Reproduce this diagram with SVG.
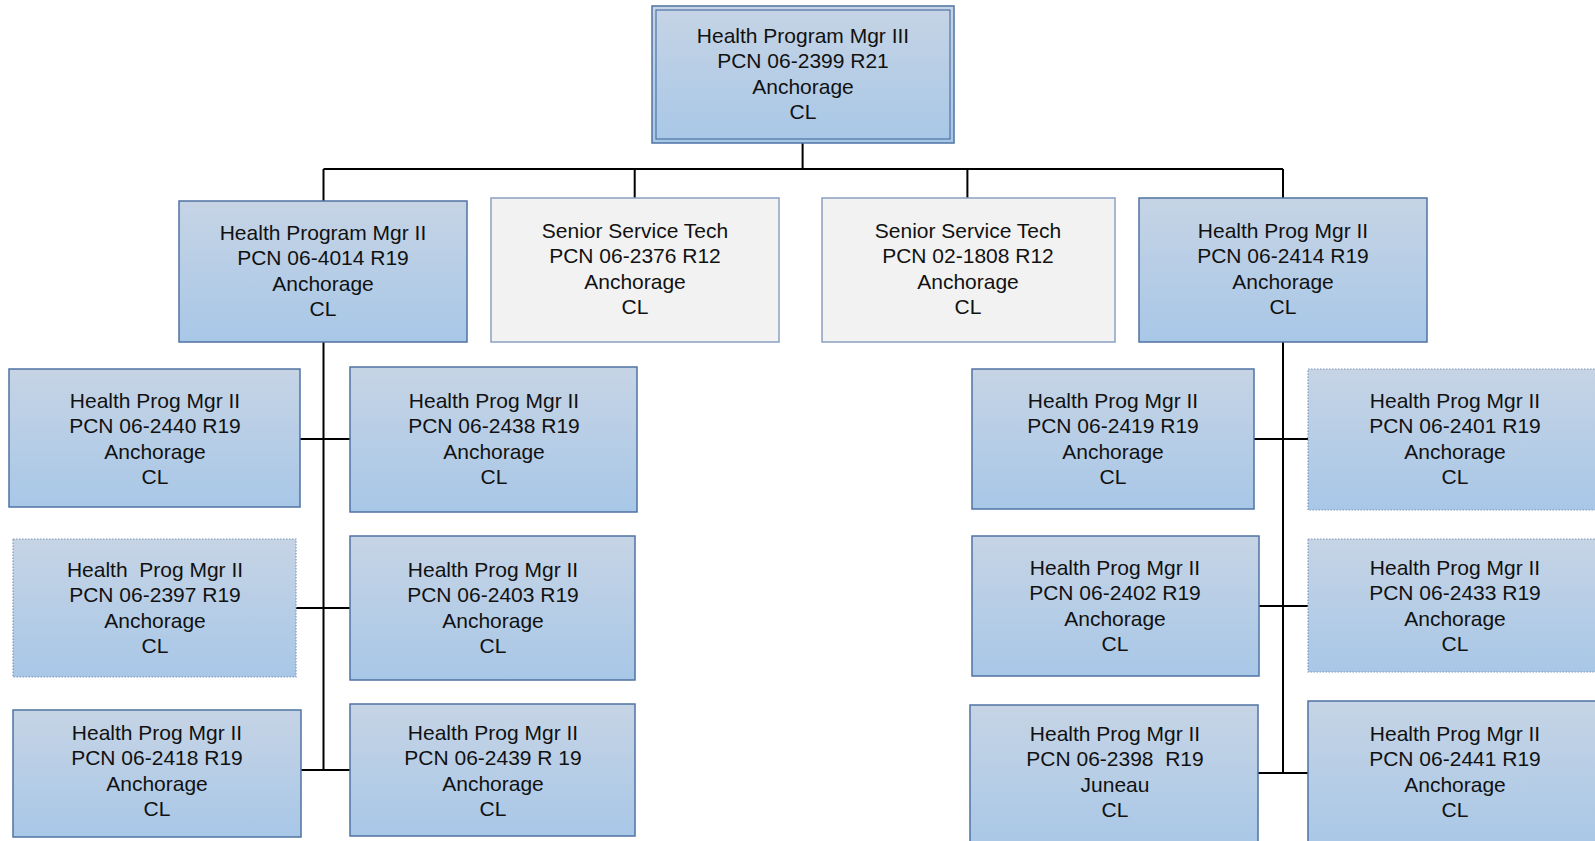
<svg xmlns="http://www.w3.org/2000/svg" width="1595" height="841" viewBox="0 0 1595 841">
<defs>
<linearGradient id="bg" x1="0" y1="0" x2="0" y2="1">
<stop offset="0" stop-color="#c6d4e5"/>
<stop offset="1" stop-color="#a8c7e7"/>
</linearGradient>
<style>
.b{fill:url(#bg);stroke:#4f73a3;stroke-width:1.5}
.d{fill:url(#bg);stroke:#7f97bd;stroke-width:1.2;stroke-dasharray:1.5 1.5}
.g{fill:#f2f2f2;stroke:#8aa0c0;stroke-width:1.5}
.i{fill:none;stroke:#4f73a3;stroke-width:1.2}
.c{fill:none;stroke:#000;stroke-width:2}
text{font-family:"Liberation Sans",Arial,sans-serif;font-size:21px;fill:#111;text-anchor:middle}
</style>
</defs>
<rect width="1595" height="841" fill="#fff"/>
<g id="connectors">
<path class="c" d="M802.6 143V169M323.5 169H1283M323.5 169V201M634.7 169V198M967.4 169V198M1283 169V198"/>
<path class="c" d="M323.5 342V770M300 439H350M296 608H350M301 770H350"/>
<path class="c" d="M1283 342V773M1254 439H1308M1259 606H1308M1258 773H1308"/>
</g>
<g id="n-top">
<rect class="b" x="652" y="6" width="302" height="137"/>
<rect class="i" x="656" y="10" width="294" height="129"/>
<text x="803" y="43">Health Program Mgr III<tspan x="803" dy="25.4">PCN 06-2399 R21</tspan><tspan x="803" dy="25.4">Anchorage</tspan><tspan x="803" dy="25.4">CL</tspan></text>
</g>
<g id="n-4014">
<rect class="b" x="179" y="201" width="288" height="141"/>
<text x="323" y="240">Health Program Mgr II<tspan x="323" dy="25.4">PCN 06-4014 R19</tspan><tspan x="323" dy="25.4">Anchorage</tspan><tspan x="323" dy="25.4">CL</tspan></text>
</g>
<g id="n-2376">
<rect class="g" x="491" y="198" width="288" height="144"/>
<text x="635" y="238">Senior Service Tech<tspan x="635" dy="25.4">PCN 06-2376 R12</tspan><tspan x="635" dy="25.4">Anchorage</tspan><tspan x="635" dy="25.4">CL</tspan></text>
</g>
<g id="n-1808">
<rect class="g" x="822" y="198" width="293" height="144"/>
<text x="968" y="238">Senior Service Tech<tspan x="968" dy="25.4">PCN 02-1808 R12</tspan><tspan x="968" dy="25.4">Anchorage</tspan><tspan x="968" dy="25.4">CL</tspan></text>
</g>
<g id="n-2414">
<rect class="b" x="1139" y="198" width="288" height="144"/>
<text x="1283" y="238">Health Prog Mgr II<tspan x="1283" dy="25.4">PCN 06-2414 R19</tspan><tspan x="1283" dy="25.4">Anchorage</tspan><tspan x="1283" dy="25.4">CL</tspan></text>
</g>
<g id="n-2440">
<rect class="b" x="9" y="369" width="291" height="138"/>
<text x="155" y="408">Health Prog Mgr II<tspan x="155" dy="25.4">PCN 06-2440 R19</tspan><tspan x="155" dy="25.4">Anchorage</tspan><tspan x="155" dy="25.4">CL</tspan></text>
</g>
<g id="n-2397">
<rect class="d" x="13" y="539" width="283" height="138"/>
<text x="155" y="577" xml:space="preserve">Health  Prog Mgr II<tspan x="155" dy="25.4">PCN 06-2397 R19</tspan><tspan x="155" dy="25.4">Anchorage</tspan><tspan x="155" dy="25.4">CL</tspan></text>
</g>
<g id="n-2418">
<rect class="b" x="13" y="710" width="288" height="127"/>
<text x="157" y="740">Health Prog Mgr II<tspan x="157" dy="25.4">PCN 06-2418 R19</tspan><tspan x="157" dy="25.4">Anchorage</tspan><tspan x="157" dy="25.4">CL</tspan></text>
</g>
<g id="n-2438">
<rect class="b" x="350" y="367" width="287" height="145"/>
<text x="494" y="408">Health Prog Mgr II<tspan x="494" dy="25.4">PCN 06-2438 R19</tspan><tspan x="494" dy="25.4">Anchorage</tspan><tspan x="494" dy="25.4">CL</tspan></text>
</g>
<g id="n-2403">
<rect class="b" x="350" y="536" width="285" height="144"/>
<text x="493" y="577">Health Prog Mgr II<tspan x="493" dy="25.4">PCN 06-2403 R19</tspan><tspan x="493" dy="25.4">Anchorage</tspan><tspan x="493" dy="25.4">CL</tspan></text>
</g>
<g id="n-2439">
<rect class="b" x="350" y="704" width="285" height="132"/>
<text x="493" y="740">Health Prog Mgr II<tspan x="493" dy="25.4">PCN 06-2439 R 19</tspan><tspan x="493" dy="25.4">Anchorage</tspan><tspan x="493" dy="25.4">CL</tspan></text>
</g>
<g id="n-2419">
<rect class="b" x="972" y="369" width="282" height="140"/>
<text x="1113" y="408">Health Prog Mgr II<tspan x="1113" dy="25.4">PCN 06-2419 R19</tspan><tspan x="1113" dy="25.4">Anchorage</tspan><tspan x="1113" dy="25.4">CL</tspan></text>
</g>
<g id="n-2402">
<rect class="b" x="972" y="536" width="287" height="140"/>
<text x="1115" y="575">Health Prog Mgr II<tspan x="1115" dy="25.4">PCN 06-2402 R19</tspan><tspan x="1115" dy="25.4">Anchorage</tspan><tspan x="1115" dy="25.4">CL</tspan></text>
</g>
<g id="n-2398">
<rect class="b" x="970" y="705" width="288" height="145"/>
<text x="1115" y="741" xml:space="preserve">Health Prog Mgr II<tspan x="1115" dy="25.4">PCN 06-2398  R19</tspan><tspan x="1115" dy="25.4">Juneau</tspan><tspan x="1115" dy="25.4">CL</tspan></text>
</g>
<g id="n-2401">
<rect class="d" x="1308" y="369" width="294" height="141"/>
<text x="1455" y="408">Health Prog Mgr II<tspan x="1455" dy="25.4">PCN 06-2401 R19</tspan><tspan x="1455" dy="25.4">Anchorage</tspan><tspan x="1455" dy="25.4">CL</tspan></text>
</g>
<g id="n-2433">
<rect class="d" x="1308" y="539" width="294" height="133"/>
<text x="1455" y="575">Health Prog Mgr II<tspan x="1455" dy="25.4">PCN 06-2433 R19</tspan><tspan x="1455" dy="25.4">Anchorage</tspan><tspan x="1455" dy="25.4">CL</tspan></text>
</g>
<g id="n-2441">
<rect class="b" x="1308" y="701" width="294" height="149"/>
<text x="1455" y="741">Health Prog Mgr II<tspan x="1455" dy="25.4">PCN 06-2441 R19</tspan><tspan x="1455" dy="25.4">Anchorage</tspan><tspan x="1455" dy="25.4">CL</tspan></text>
</g>
</svg>
